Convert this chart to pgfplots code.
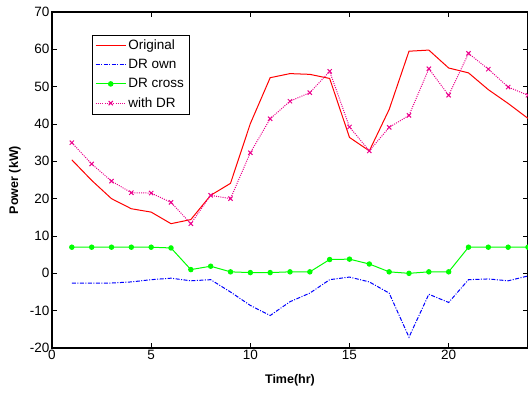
\documentclass[border=0pt]{standalone}
\usepackage{fontspec}
\setmainfont{Liberation Sans}
\usepackage{pgfplots}
\pgfplotsset{compat=1.18}
\begin{document}
\begin{tikzpicture}
\begin{axis}[
  at={(0,0)}, anchor=south west,
  scale only axis, width=476pt, height=336pt,
  xmin=0, xmax=24, ymin=-20, ymax=70,
  xtick={0,5,...,20}, ytick={-20,-10,...,70},
  tick align=inside, major tick length=5pt,
  tick style={black, line width=0.6pt},
  axis line style={black, line width=1.1pt},
  /pgf/number format/assume math mode=true,
  tick label style={font=\fontsize{13.5}{13.5}\selectfont},
  xticklabel style={yshift=1pt},
  yticklabel style={xshift=1pt},
  xlabel={\bfseries Time(hr)},
  ylabel={\bfseries Power (kW)},
  label style={font=\fontsize{12.5}{12.5}\selectfont},
  xlabel style={at={(axis description cs:0.5,-0.0952)}, anchor=center},
  ylabel style={at={(axis description cs:-0.0777,0.5)}, anchor=center},
  legend style={at={(rel axis cs:0.084,0.932)}, anchor=north west,
    font=\fontsize{13.5}{13.5}\selectfont, draw=black,
    inner xsep=3pt, inner ysep=3pt, row sep=4.2pt},
  legend cell align=left,
  legend image code/.code={\draw[mark repeat=2, mark phase=2, #1, line width=1.1pt] plot coordinates {(0pt,0pt)(15pt,0pt)(30pt,0pt)};},
  clip=false,
]
\addplot[red, line width=1pt] coordinates {
(1,30.4)(2,24.9)(3,20.0)(4,17.3)(5,16.4)(6,13.3)(7,14.4)(8,20.9)(9,24.1)(10,40.1)
(11,52.4)(12,53.5)(13,53.3)(14,52.2)(15,36.4)(16,32.8)(17,43.9)(18,59.5)(19,59.8)(20,55.0)
(21,53.7)(22,49.2)(23,45.5)(24,41.5)};
\addlegendentry{Original}
\addplot[blue, line width=1pt, dash pattern=on 4pt off 1.5pt on 1pt off 1.5pt] coordinates {
(1,-2.6)(2,-2.6)(3,-2.6)(4,-2.3)(5,-1.7)(6,-1.3)(7,-2.0)(8,-1.7)(9,-5.0)(10,-8.6)
(11,-11.3)(12,-7.6)(13,-5.3)(14,-1.7)(15,-1.0)(16,-2.3)(17,-5.3)(18,-17.1)(19,-5.6)(20,-7.8)
(21,-1.7)(22,-1.5)(23,-2.0)(24,-0.7)};
\addlegendentry{DR own}
\addplot[green, line width=1pt, mark=*, mark size=2.2pt, mark options={solid, fill=green}] coordinates {
(1,7.0)(2,7.0)(3,7.0)(4,7.0)(5,7.0)(6,6.8)(7,1.0)(8,1.9)(9,0.4)(10,0.2)
(11,0.2)(12,0.4)(13,0.4)(14,3.7)(15,3.8)(16,2.5)(17,0.4)(18,0.0)(19,0.4)(20,0.4)
(21,7.0)(22,7.0)(23,7.0)(24,7.0)};
\addlegendentry{DR cross}
\addplot[magenta, line width=1pt, dash pattern=on 1pt off 1.2pt, mark=x, mark size=3pt, mark options={solid, line width=1pt}] coordinates {
(1,35.0)(2,29.3)(3,24.7)(4,21.6)(5,21.5)(6,19.0)(7,13.3)(8,20.9)(9,20.0)(10,32.3)
(11,41.4)(12,46.1)(13,48.4)(14,54.1)(15,39.2)(16,32.8)(17,39.1)(18,42.3)(19,54.8)(20,47.7)
(21,58.9)(22,54.7)(23,49.9)(24,47.7)};
\addlegendentry{with DR}
\end{axis}
\pgfresetboundingbox
\useasboundingbox (-52pt,-48pt) rectangle (476pt,348pt);
\end{tikzpicture}
\end{document}
